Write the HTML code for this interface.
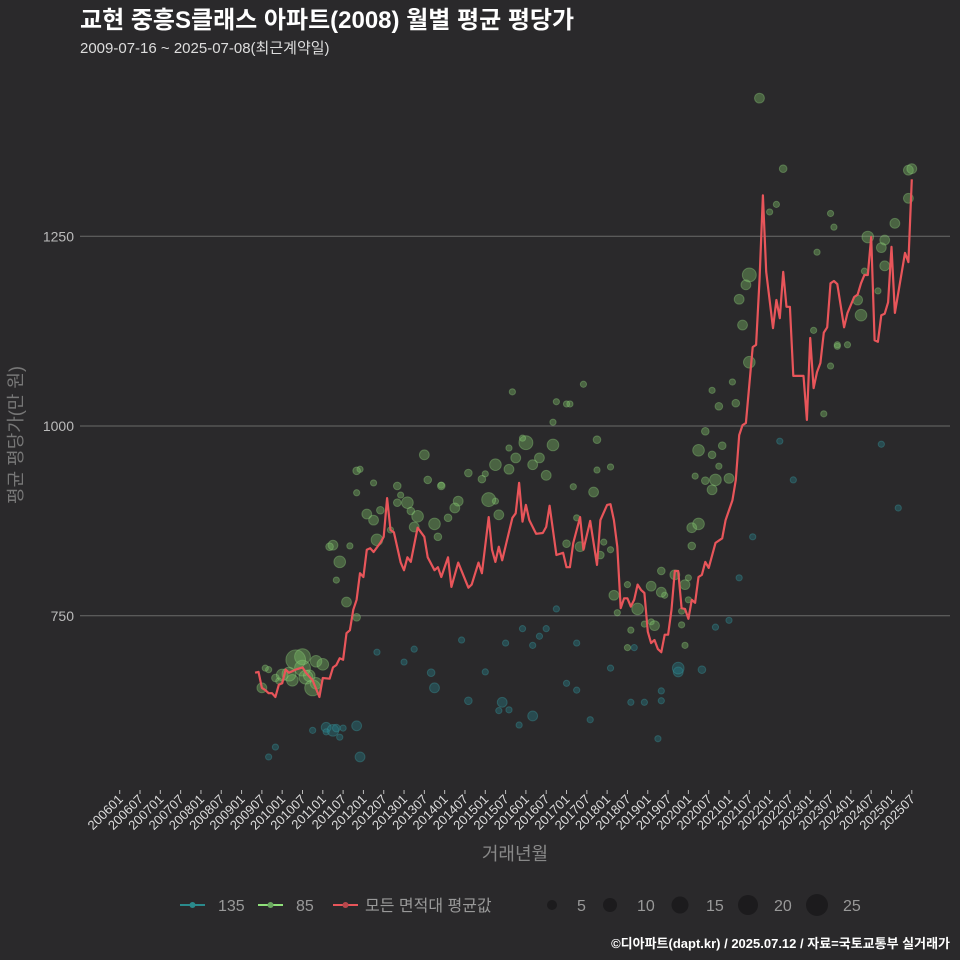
<!DOCTYPE html>
<html><head><meta charset="utf-8">
<style>
html,body{margin:0;padding:0;background:#2a292b;}
svg{display:block;font-family:"Liberation Sans","Noto Sans CJK KR",sans-serif;}
</style></head>
<body>
<svg id="chart" width="960" height="960" viewBox="0 0 960 960">
<rect x="0" y="0" width="960" height="960" fill="#2a292b"/>
<text x="80" y="28" font-size="24" font-weight="bold" fill="#ffffff">교현 중흥S클래스 아파트(2008) 월별 평균 평당가</text>
<text x="80" y="53" font-size="15" fill="#dddddd">2009-07-16 ~ 2025-07-08(최근계약일)</text>
<g id="grid"></g>
<g id="yaxis"></g>
<g id="xaxis"></g>
<g id="pts135"></g>
<g id="pts85"></g>
<g id="avg"></g>
<text x="0" y="0" transform="translate(22,435) rotate(-90)" text-anchor="middle" font-size="18" fill="#777777">평균 평당가(만 원)</text>
<text x="515" y="860" text-anchor="middle" font-size="18" fill="#888888">거래년월</text>
<g>
  <g>
    <line x1="180" y1="905" x2="205" y2="905" stroke="#2a8a8c" stroke-width="2"/>
    <circle cx="192.5" cy="905" r="3" fill="#2a8a8c"/>
    <text x="218" y="911" font-size="16" fill="#999999">135</text>
  </g>
  <g>
    <line x1="258" y1="905" x2="283" y2="905" stroke="#8fe07a" stroke-width="2"/>
    <circle cx="270.5" cy="905" r="3" fill="#6aa860"/>
    <text x="296" y="911" font-size="16" fill="#999999">85</text>
  </g>
  <g>
    <line x1="333" y1="905" x2="358" y2="905" stroke="#e8555a" stroke-width="2"/>
    <circle cx="345.5" cy="905" r="3" fill="#b8474c"/>
    <text x="365" y="911" font-size="16" fill="#999999">모든 면적대 평균값</text>
  </g>
  <g>
    <circle cx="552" cy="905" r="5" fill="#1c1b1d"/><text x="577" y="911" font-size="16" fill="#999999">5</text>
    <circle cx="610" cy="905" r="7" fill="#1c1b1d"/><text x="637" y="911" font-size="16" fill="#999999">10</text>
    <circle cx="680" cy="905" r="8.5" fill="#1c1b1d"/><text x="706" y="911" font-size="16" fill="#999999">15</text>
    <circle cx="748" cy="905" r="10" fill="#1c1b1d"/><text x="774" y="911" font-size="16" fill="#999999">20</text>
    <circle cx="817" cy="905" r="11" fill="#1c1b1d"/><text x="843" y="911" font-size="16" fill="#999999">25</text>
  </g>
</g>
<text x="950" y="948" text-anchor="end" font-size="13" font-weight="bold" fill="#ffffff">©디아파트(dapt.kr) / 2025.07.12 / 자료=국토교통부 실거래가</text>
</svg>
<script>
// month index counted from 2006-01
const avgMonths = [40,41,42,43,44,45,46,47,48,49,50,52,54,55,57,59,60,62,63,64,65,66,67,68,69,70,71,72,73,74,75,77,78,79,80,81,83,84,85,86,88,90,91,93,94,95,97,98,100,103,104,106,107,109,110,111,112,113,116,117,118,119,120,121,123,125,126,127,129,131,132,133,134,136,137,139,141,142,144,145,146,147,148,149,150,151,152,153,154,155,156,157,158,159,160,161,162,163,164,165,166,167,168,169,170,171,172,173,174,176,178,179,181,182,183,184,185,187,188,189,190,191,193,194,195,196,197,198,199,202,203,204,205,206,207,208,209,210,211,212,214,215,217,218,219,220,221,222,223,224,225,226,227,228,229,232,233,234];
const avgValues = [675,676,655,652,648,648,643,659,661,679,675,679,682,675,665,643,668,667,682,685,694,692,727,731,758,771,806,801,837,839,834,846,854,905,863,860,820,810,827,821,866,854,827,810,814,801,827,788,820,787,791,820,806,880,837,821,841,823,879,885,925,874,896,876,858,859,867,895,830,833,814,814,846,880,837,875,817,876,896,897,876,841,760,773,773,762,771,791,784,780,729,714,718,706,702,725,725,758,809,809,760,759,746,771,767,801,804,821,813,846,852,876,902,929,988,1001,1004,1104,1107,1192,1304,1203,1129,1166,1142,1203,1157,1157,1066,1066,1008,1116,1050,1071,1083,1123,1130,1188,1191,1187,1130,1149,1170,1173,1188,1199,1199,1249,1113,1111,1146,1148,1163,1236,1149,1228,1216,1325];

const g85Months = [189,196,233,234,233,229,221,226,194,192,210,211,206,220,186,185,183,218,226,225,224,219,184,205,215,186,212,208,210,212,182,181,177,175,173,178,171,175,177,176,173,180,170,175,169,171,169,164,168,168,166,166,167,157,161,160,157,167,160,
133,137,128,120,128,124,122,126,119,117,111,115,111,109,108,107,112,115,116,129,132,141,141,140,134,135,145,143,142,132,136,146,145,147,151,150,153,150,155,158,
103,100,95,99,97,95,93,91,94,88,87,90,85,83,86,82,82,77,75,73,76,80,75,71,70,70,68,65,67,63,64,70,62,
54,58,54,51,50,56,58,48,46,44,43,42,55,57,60,52,47];
const g85Values = [1432,1339,1337,1339,1300,1267,1249,1245,1292,1282,1280,1262,1229,1204,1199,1186,1167,1166,1211,1235,1178,1146,1133,1126,1107,1084,1105,1016,1079,1107,1030,1058,1026,1047,993,974,968,962,947,929,928,931,934,916,866,871,842,804,800,771,756,738,711,742,777,781,789,791,809,
1029,1055,975,978,1005,958,949,935,984,958,949,943,901,903,937,930,883,971,1045,1032,1029,982,942,913,920,879,946,847,830,845,841,777,837,754,731,791,759,708,739,737,
938,901,922,892,879,921,871,929,854,881,867,962,899,909,888,899,921,889,876,884,850,863,925,943,941,912,842,821,768,843,797,748,841,
696,690,681,665,673,671,661,672,668,679,681,655,669,655,686,692,664];
const g85Counts = [5,3,5,5,5,5,7,5,2,2,2,2,2,2,10,5,5,5,5,5,2,7,5,2,2,7,2,2,2,2,3,2,3,2,3,3,7,3,2,7,3,5,2,5,5,7,3,5,2,2,2,2,2,2,2,5,5,5,3,
2,2,7,10,2,5,5,5,2,5,7,5,2,10,2,3,5,2,2,2,2,3,2,5,2,2,2,2,3,3,5,5,2,2,2,2,7,2,2,5,
3,5,2,5,3,3,7,3,3,7,5,5,7,2,3,3,3,3,5,5,7,2,2,2,3,2,2,7,5,5,2,3,3,
13,7,13,7,10,7,7,7,3,2,2,5,10,13,7,20,2];

const g135Months = [61,63,64,61,66,70,65,57,71,46,44,76,87,92,93,84,101,103,108,114,122,113,119,118,122,112,115,124,126,132,135,135,129,139,145,159,160,165,172,151,155,152,160,176,180,183,195,225,230,199,187,165];
const g135Values = [603,599,602,597,602,605,590,599,564,577,564,702,706,675,655,689,718,638,676,714,711,636,733,606,618,625,626,723,733,661,652,714,759,613,681,588,638,676,679,636,636,708,651,735,744,800,980,976,892,929,854,681];
const g135Counts = [5,7,3,2,2,5,2,2,5,2,2,2,2,3,5,2,2,3,2,2,2,5,2,2,5,2,2,2,2,2,2,2,2,2,2,2,2,5,3,2,2,2,2,2,2,2,2,2,2,2,2,7];

const yTicks = [750,1000,1250];

const NS = "http://www.w3.org/2000/svg";
function xScale(m){ return 119.7 + m*3.385; }
function yScale(v){ return 426 - (v-1000)*0.759; }
function rScale(n){ return 2.2*Math.sqrt(n); }
function mk(tag, attrs, parent){
  const e = document.createElementNS(NS, tag);
  for (const k in attrs) e.setAttribute(k, attrs[k]);
  parent.appendChild(e); return e;
}

const grid = document.getElementById('grid');
const yaxis = document.getElementById('yaxis');
yTicks.forEach(function(t){
  const ln = mk('line', {x1:80, x2:950, y1:yScale(t), y2:yScale(t), stroke:'#6a6a6a', 'stroke-width':1}, grid);
  
  
  const tx = mk('text', {x:74, y:yScale(t)+5, 'text-anchor':'end', 'font-size':14, fill:'#bbbbbb'}, yaxis);
  tx.textContent = t;
  
  
});

const xaxis = document.getElementById('xaxis');
for (let yr = 2006; yr <= 2025; yr++) {
  [1,7].forEach(function(mo){
    const m = (yr-2006)*12 + (mo-1);
    const x = xScale(m);
    const tk = mk('line', {x1:x, x2:x, y1:790, y2:794, stroke:'#bbbbbb', 'stroke-width':1}, xaxis);
    
    
    const tx = mk('text', {x:0, y:0, transform:'translate(' + (x+4) + ',800) rotate(-45)', 'text-anchor':'end', 'font-size':13, fill:'#dddddd'}, xaxis);
    tx.textContent = yr + (mo === 1 ? '01' : '07');
    
    
  });
}

const p135 = document.getElementById('pts135');
g135Months.forEach(function(m, i){
  const c = mk('circle', {cx:xScale(m), cy:yScale(g135Values[i]), r:rScale(g135Counts[i]), fill:'rgba(38,130,140,0.38)', stroke:'rgba(60,160,165,0.35)', 'stroke-width':1}, p135);
  
  
});
const p85 = document.getElementById('pts85');
g85Months.forEach(function(m, i){
  const c = mk('circle', {cx:xScale(m), cy:yScale(g85Values[i]), r:rScale(g85Counts[i]), fill:'rgba(125,195,105,0.38)', stroke:'rgba(150,215,130,0.35)', 'stroke-width':1}, p85);
  
  
});

const avg = document.getElementById('avg');
const d = avgMonths.map(function(m, i){ return (i ? 'L' : 'M') + xScale(m).toFixed(1) + ',' + yScale(avgValues[i]).toFixed(1); }).join(' ');
const path = mk('path', {d:d, fill:'none', stroke:'#e8555a', 'stroke-width':2.2, 'stroke-linejoin':'round'}, avg);


</script>
</body></html>
